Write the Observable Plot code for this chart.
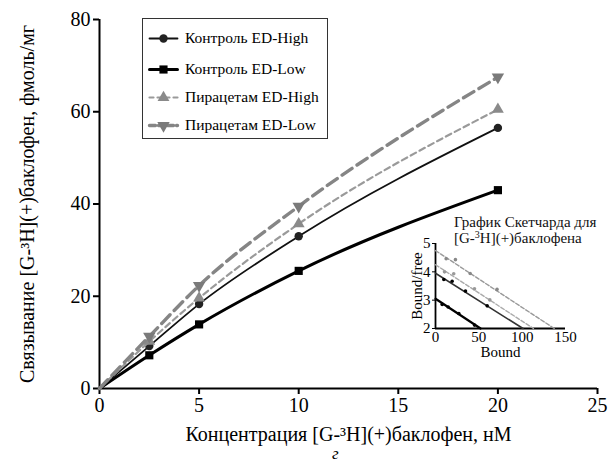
<!DOCTYPE html>
<html>
<head>
<meta charset="utf-8">
<script src="https://cdn.jsdelivr.net/npm/d3@7"></script>
<script src="https://cdn.jsdelivr.net/npm/@observablehq/plot@0.6"></script>
<style>
  body { margin: 0; background: #fff; font-family: "Liberation Serif", "Times New Roman", "DejaVu Serif", serif; }
  #wrap { position: relative; width: 609px; height: 471px; overflow: hidden; }
  #wrap svg { overflow: visible; }
  .abs { position: absolute; }
  #legend { left: 142px; top: 18px; width: 186px; height: 121px; border: 1px solid #333; box-sizing: border-box; }
  .row { position: absolute; left: 6px; display: flex; align-items: center; font-size: 15.5px; white-space: nowrap; }
  .row svg { margin-right: 8px; }
  #insetTitle { left: 454px; top: 214px; font-size: 15px; line-height: 16px; color: #111; }
  #caption { left: 332px; top: 445px; font-size: 17px; line-height: 17px; font-style: italic; }
</style>
</head>
<body>
<div id="wrap"></div>
<script>
const FONT = '"Liberation Serif", "Times New Roman", "DejaVu Serif", serif';
// ---- Main chart data ----
const concentration = [0, 2.5, 5, 10, 20];
const controlHigh = [0, 9.2, 18.3, 33, 56.5];
const controlLow = [0, 7.2, 13.9, 25.5, 43];
const piracetamHigh = [0, 10.2, 19.6, 35.7, 60.5];
const piracetamLow = [0, 11.3, 22.3, 39.5, 67.5];
const seriesNames = ["Контроль ED-High", "Контроль ED-Low", "Пирацетам ED-High", "Пирацетам ED-Low"];
const xTicks = [0, 5, 10, 15, 20, 25];
const yTicks = [0, 20, 40, 60, 80];

// ---- Scatchard inset data ----
const scBoundCH = [9.6, 19.2, 34.6, 59.6];
const scRatioCH = [3.73, 3.67, 3.32, 2.8];
const scBoundCL = [7.7, 14.6, 26.9, 45];
const scRatioCL = [2.85, 2.76, 2.53, 2.12];
const scBoundPH = [10.4, 21, 45, 62.7];
const scRatioPH = [4.0, 3.93, 3.4, 3.01];
const scBoundPL = [12.3, 23, 40, 71];
const scRatioPL = [4.46, 4.43, 3.94, 3.38];
// fitted regression lines: [bound at start, bound at end], [ratio at start, ratio at end]
const fitBoundCH = [0, 101], fitRatioCH = [3.95, 2];
const fitBoundCL = [0, 52], fitRatioCL = [3.05, 2];
const fitBoundPH = [0, 113], fitRatioPH = [4.25, 2];
const fitBoundPL = [0, 137], fitRatioPL = [4.75, 2];
const insetXTicks = [0, 50, 100, 150];
const insetYTicks = [2, 3, 4, 5];

const styles = [
  {stroke: "#111", width: 1.8, dash: null, symbol: "circle", r: 4.2, fill: "#222", rotate: 0},
  {stroke: "#000", width: 3, dash: null, symbol: "square", r: 4.6, fill: "#000", rotate: 0},
  {stroke: "#9a9a9a", width: 2.2, dash: "6,4", symbol: "triangle", r: 4.4, fill: "#8a8a8a", rotate: 0},
  {stroke: "#858585", width: 3.4, dash: "12,6", symbol: "triangle", r: 4.6, fill: "#7a7a7a", rotate: 180}
];
const values = [controlHigh, controlLow, piracetamHigh, piracetamLow];
const rows = [];
values.forEach((vals, s) => concentration.forEach((c, i) => rows.push({series: s, x: c, y: vals[i]})));

const lineMarks = [];
styles.forEach((st, s) => {
  const d = rows.filter(r => r.series === s);
  lineMarks.push(Plot.line(d, {x: "x", y: "y", stroke: st.stroke, strokeWidth: st.width, strokeDasharray: st.dash, curve: "monotone-x"}));
  lineMarks.push(Plot.dot(d.filter(r => r.x > 0), {x: "x", y: "y", symbol: () => st.symbol, r: st.r, fill: st.fill, stroke: "none", rotate: st.rotate}));
});

const main = Plot.plot({
  width: 609, height: 471,
  marginLeft: 99, marginRight: 12, marginTop: 19, marginBottom: 83,
  style: {fontFamily: FONT, fontSize: "20px", color: "#000", background: "transparent"},
  x: {domain: [0, 25]},
  y: {domain: [0, 80]},
  marks: [
    Plot.axisX({ticks: xTicks, tickSize: 6, tickPadding: 3, strokeWidth: 2, label: "Концентрация [G-³H](+)баклофен, нМ", labelAnchor: "center", labelArrow: "none", labelOffset: 52}),
    Plot.axisY({ticks: yTicks, tickSize: 6, tickPadding: 3, strokeWidth: 2, label: "Связывание [G-³H](+)баклофен, фмоль/мг", labelAnchor: "center", labelArrow: "none", labelOffset: 80}),
    Plot.ruleX([0], {stroke: "#000", strokeWidth: 2}),
    Plot.ruleY([0], {stroke: "#000", strokeWidth: 2}),
    ...lineMarks
  ]
});
const wrap = document.getElementById("wrap");
wrap.appendChild(main);

// ---- inset ----
const insetMarks = [];
const sc = [[fitBoundCH, fitRatioCH, scBoundCH, scRatioCH, "#333", 1.5, null, "#000"],
            [fitBoundCL, fitRatioCL, scBoundCL, scRatioCL, "#000", 2.2, null, "#000"],
            [fitBoundPH, fitRatioPH, scBoundPH, scRatioPH, "#aaa", 1.4, "4,2", "#999"],
            [fitBoundPL, fitRatioPL, scBoundPL, scRatioPL, "#999", 1.4, "4,2", "#888"]];
sc.forEach(([fx, fy, px, py, col, w, dash, dotCol]) => {
  insetMarks.push(Plot.line(fx.map((b, i) => ({b, r: fy[i]})), {x: "b", y: "r", stroke: col, strokeWidth: w, strokeDasharray: dash}));
  insetMarks.push(Plot.dot(px.map((b, i) => ({b, r: py[i]})), {x: "b", y: "r", r: 1.8, fill: dotCol}));
});
const inset = Plot.plot({
  width: 180, height: 135,
  marginLeft: 40, marginRight: 10, marginTop: 13, marginBottom: 37,
  style: {fontFamily: FONT, fontSize: "15px", color: "#000", background: "transparent"},
  x: {domain: [0, 150]},
  y: {domain: [2, 5]},
  marks: [
    Plot.axisX({ticks: insetXTicks, tickSize: 0, tickPadding: 3, tickFormat: d3.format("d"), label: "Bound", labelAnchor: "center", labelArrow: "none", labelOffset: 28}),
    Plot.axisY({ticks: insetYTicks, tickSize: 3, tickPadding: 2, tickFormat: d3.format("d"), label: "Bound/free", labelAnchor: "center", labelArrow: "none", labelOffset: 24}),
    Plot.ruleX([0], {stroke: "#000", strokeWidth: 1.8}),
    Plot.ruleY([2], {stroke: "#000", strokeWidth: 1.8}),
    ...insetMarks
  ]
});
inset.classList.add("abs");
inset.style.left = "395px";
inset.style.top = "230px";
wrap.appendChild(inset);

const title = document.createElement("div");
title.id = "insetTitle"; title.className = "abs";
title.innerHTML = "График Скетчарда для<br>[G-<sup style='font-size:10px;vertical-align:5px;line-height:0'>3</sup>H](+)баклофена";
wrap.appendChild(title);

// ---- legend ----
const legend = document.createElement("div");
legend.id = "legend"; legend.className = "abs";
const rowTops = [19, 50, 78, 106];
seriesNames.forEach((name, s) => {
  const st = styles[s];
  const row = document.createElement("div");
  row.className = "row";
  row.style.top = (rowTops[s] - 9) + "px";
  const sym = Plot.plot({
    width: 28, height: 18, margin: 0,
    x: {domain: [0, 1], axis: null}, y: {domain: [0, 1], axis: null},
    style: {background: "transparent"},
    marks: [
      Plot.line([{x: 0, y: 0.5}, {x: 1, y: 0.5}], {x: "x", y: "y", stroke: st.stroke, strokeWidth: st.width, strokeDasharray: st.dash ? (s === 2 ? "4,4" : "6,3") : null}),
      Plot.dot([{x: 0.5, y: 0.5}], {x: "x", y: "y", symbol: () => st.symbol, r: st.r, fill: st.fill, rotate: st.rotate})
    ]
  });
  row.appendChild(sym);
  const t = document.createElement("span");
  t.textContent = name;
  row.appendChild(t);
  legend.appendChild(row);
});
wrap.appendChild(legend);

const cap = document.createElement("div");
cap.id = "caption"; cap.className = "abs";
cap.textContent = "г";
wrap.appendChild(cap);
</script>
</body>
</html>
